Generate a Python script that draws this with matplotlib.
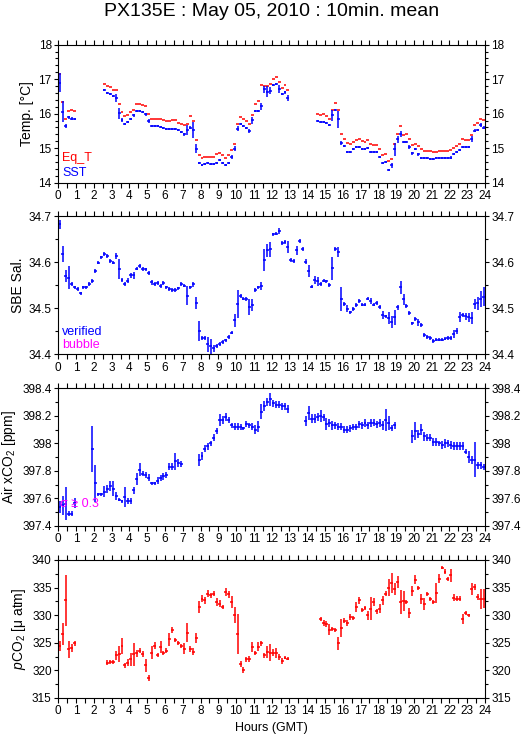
import numpy as np
import matplotlib
matplotlib.use("Agg")
import matplotlib.pyplot as plt
from matplotlib.ticker import MultipleLocator, FuncFormatter

plt.rcParams['font.family'] = ['Liberation Sans', 'DejaVu Sans']
plt.rcParams['mathtext.fontset'] = 'custom'
plt.rcParams['mathtext.rm'] = 'Liberation Sans'
plt.rcParams['mathtext.it'] = 'Liberation Sans:italic'

N = np.nan
title = "PX135E : May 05, 2010 : 10min. mean"
hour_ticks = list(range(0, 25))

# 10-minute means, 6 values per hour (hour 0 .. 23)
eq_t = [
    17.14, 16.33, 15.86, 16.08, 16.10, 16.08,
    N, N, N, N, N, N,
    N, N, N, 16.86, 16.79, 16.76,
    16.68, 16.68, 16.28, 16.04, 15.93, 15.96,
    16.04, 16.12, 16.27, 16.27, 16.24, 16.21,
    16.00, 15.84, 15.86, 15.86, 15.84, 15.81,
    15.78, 15.78, 15.81, 15.81, 15.72, 15.69,
    15.66, 15.69, 15.94, 15.78, 15.24, 14.79,
    14.73, 14.75, 14.75, 14.75, 14.75, 14.84,
    14.87, 14.80, 14.71, 14.79, 14.95, 15.13,
    15.71, 15.89, 15.85, 15.79, 15.69, 15.97,
    16.28, 16.36, 16.82, 16.80, 16.80, 16.86,
    17.00, 17.05, 16.93, 16.75, 16.82, 16.68,
    N, N, N, N, N, N,
    N, N, N, 15.98, 15.96, 15.98,
    15.94, 15.86, 16.10, 16.30, 16.12, 15.40,
    15.28, 15.14, 15.11, 15.17, 15.24, 15.27,
    15.21, 15.18, 15.24, 15.11, 15.09, 15.09,
    14.98, 14.79, 14.82, 14.62, 14.69, 15.11,
    15.41, 15.63, 15.37, 15.40, 15.28, 15.08,
    15.13, 15.05, 14.97, 14.91, 14.91, 14.91,
    14.88, 14.88, 14.91, 14.91, 14.91, 14.91,
    14.94, 15.00, 15.05, 15.11, 15.26, 15.23,
    15.23, 15.38, 15.67, 15.72, 15.84, 15.81,
]

sst = [
    16.90, 16.06, 15.65, 15.89, 15.86, 15.84,
    N, N, N, N, N, N,
    N, N, N, 16.69, 16.61, 16.57,
    16.52, 16.46, 16.01, 15.82, 15.69, 15.76,
    15.84, 15.95, 16.08, 16.08, 16.04, 15.98,
    15.79, 15.64, 15.64, 15.65, 15.62, 15.59,
    15.57, 15.57, 15.57, 15.57, 15.53, 15.47,
    15.40, 15.53, 15.59, 15.53, 14.98, 14.56,
    14.52, 14.53, 14.56, 14.54, 14.54, 14.58,
    14.66, 14.58, 14.52, 14.58, 14.75, 14.98,
    15.57, 15.70, 15.63, 15.59, 15.51, 15.81,
    16.08, 16.08, 16.21, 16.71, 16.64, 16.67,
    16.83, 16.86, 16.71, 16.57, 16.62, 16.46,
    N, N, N, N, N, N,
    N, N, N, 15.80, 15.77, 15.76,
    15.72, 15.66, 15.95, 16.10, 15.84, 15.14,
    15.06, 14.90, 14.88, 14.98, 15.04, 15.04,
    14.99, 14.99, 15.00, 14.88, 14.88, 14.88,
    14.74, 14.56, 14.61, 14.37, 14.50, 14.97,
    15.26, 15.41, 15.17, 15.17, 15.04, 14.85,
    14.97, 14.82, 14.72, 14.71, 14.71, 14.68,
    14.70, 14.71, 14.71, 14.71, 14.71, 14.71,
    14.73, 14.83, 14.89, 14.95, 15.04, 15.04,
    15.04, 15.26, 15.51, 15.53, 15.67, 15.60,
]

sst_err = [
    0.27, 0.30, 0.05, 0.03, 0.03, 0.03,
    0, 0, 0, 0, 0, 0,
    0, 0, 0, 0.03, 0.03, 0.03,
    0.03, 0.12, 0.16, 0.05, 0.03, 0.03,
    0.03, 0.05, 0.03, 0.03, 0.03, 0.04,
    0.06, 0.03, 0.03, 0.03, 0.03, 0.03,
    0.03, 0.03, 0.03, 0.03, 0.03, 0.04,
    0.04, 0.15, 0.04, 0.24, 0.13, 0.03,
    0.03, 0.03, 0.03, 0.03, 0.03, 0.03,
    0.03, 0.03, 0.03, 0.03, 0.05, 0.07,
    0.08, 0.03, 0.03, 0.03, 0.06, 0.10,
    0.03, 0.03, 0.10, 0.10, 0.15, 0.10,
    0.03, 0.03, 0.12, 0.03, 0.04, 0.09,
    0, 0, 0, 0, 0, 0,
    0, 0, 0, 0.03, 0.03, 0.03,
    0.03, 0.03, 0.15, 0.03, 0.25, 0.06,
    0.03, 0.03, 0.03, 0.03, 0.03, 0.03,
    0.03, 0.03, 0.03, 0.03, 0.03, 0.03,
    0.03, 0.03, 0.03, 0.04, 0.07, 0.19,
    0.10, 0.08, 0.03, 0.03, 0.06, 0.04,
    0.03, 0.04, 0.03, 0.03, 0.03, 0.03,
    0.03, 0.03, 0.03, 0.03, 0.03, 0.03,
    0.03, 0.04, 0.03, 0.03, 0.03, 0.03,
    0.03, 0.09, 0.04, 0.03, 0.06, 0.05,
]

sal = [
    34.682, 34.618, 34.570, 34.566, 34.552, 34.545,
    34.541, 34.532, 34.545, 34.545, 34.552, 34.559,
    34.581, 34.599, 34.610, 34.617, 34.613, 34.603,
    34.599, 34.613, 34.585, 34.561, 34.552, 34.560,
    34.571, 34.571, 34.586, 34.592, 34.585, 34.584,
    34.577, 34.556, 34.552, 34.555, 34.548, 34.554,
    34.545, 34.542, 34.539, 34.539, 34.543, 34.552,
    34.549, 34.527, 34.545, 34.552, 34.511, 34.451,
    34.435, 34.435, 34.422, 34.417, 34.413, 34.418,
    34.422, 34.426, 34.430, 34.438, 34.447, 34.474,
    34.509, 34.527, 34.521, 34.520, 34.503, 34.508,
    34.539, 34.545, 34.548, 34.604, 34.626, 34.628,
    34.660, 34.662, 34.667, 34.641, 34.643, 34.633,
    34.605, 34.603, 34.626, 34.646, 34.628, 34.601,
    34.581, 34.547, 34.561, 34.558, 34.553, 34.560,
    34.558, 34.550, 34.587, 34.628, 34.622, 34.520,
    34.509, 34.499, 34.491, 34.498, 34.507, 34.516,
    34.508, 34.508, 34.521, 34.516, 34.508, 34.511,
    34.503, 34.485, 34.482, 34.479, 34.469, 34.480,
    34.502, 34.545, 34.519, 34.505, 34.489, 34.467,
    34.477, 34.469, 34.464, 34.442, 34.437, 34.435,
    34.429, 34.432, 34.432, 34.432, 34.434, 34.435,
    34.435, 34.444, 34.451, 34.480, 34.485, 34.482,
    34.480, 34.478, 34.509, 34.511, 34.520, 34.525,
]

sal_err = [
    0.010, 0.017, 0.013, 0.025, 0.004, 0.004,
    0.004, 0.004, 0.004, 0.004, 0.004, 0.004,
    0.005, 0.004, 0.004, 0.004, 0.004, 0.004,
    0.004, 0.006, 0.022, 0.004, 0.004, 0.006,
    0.005, 0.007, 0.004, 0.004, 0.004, 0.004,
    0.004, 0.006, 0.004, 0.004, 0.004, 0.004,
    0.004, 0.004, 0.004, 0.004, 0.004, 0.004,
    0.004, 0.021, 0.004, 0.005, 0.013, 0.022,
    0.004, 0.004, 0.016, 0.016, 0.008, 0.004,
    0.004, 0.004, 0.004, 0.004, 0.004, 0.014,
    0.031, 0.004, 0.004, 0.004, 0.018, 0.013,
    0.004, 0.004, 0.008, 0.024, 0.014, 0.016,
    0.004, 0.004, 0.006, 0.004, 0.004, 0.013,
    0.004, 0.004, 0.010, 0.004, 0.004, 0.005,
    0.013, 0.004, 0.009, 0.010, 0.004, 0.004,
    0.004, 0.004, 0.025, 0.004, 0.011, 0.025,
    0.004, 0.008, 0.004, 0.004, 0.004, 0.004,
    0.004, 0.004, 0.004, 0.006, 0.004, 0.004,
    0.004, 0.008, 0.004, 0.013, 0.013, 0.016,
    0.006, 0.014, 0.012, 0.004, 0.004, 0.004,
    0.004, 0.007, 0.004, 0.004, 0.004, 0.004,
    0.004, 0.004, 0.004, 0.004, 0.004, 0.004,
    0.004, 0.008, 0.006, 0.011, 0.004, 0.008,
    0.010, 0.013, 0.010, 0.014, 0.018, 0.020,
]

xco2 = [
    397.54, 397.55, 397.56, 397.49, 397.49, 397.57,
    N, N, N, N, N, 397.96,
    397.71, 397.63, 397.63, 397.65, 397.67, 397.69,
    397.67, 397.62, 397.59, 397.58, 397.61, 397.58,
    397.58, 397.66, 397.74, 397.81, 397.78, 397.77,
    397.75, 397.71, 397.71, 397.73, 397.75, 397.76,
    397.77, 397.83, 397.83, 397.87, 397.86, 397.85,
    N, N, N, N, N, 397.88,
    397.91, 397.96, 397.98, 398.00, 398.04, 398.09,
    398.17, 398.17, 398.19, 398.17, 398.13, 398.12,
    398.12, 398.12, 398.11, 398.14, 398.13, 398.12,
    398.10, 398.12, 398.23, 398.27, 398.30, 398.32,
    398.29, 398.28, 398.28, 398.27, 398.27, 398.25,
    N, N, N, N, N, 398.16,
    398.22, 398.18, 398.18, 398.19, 398.20, 398.19,
    398.14, 398.15, 398.13, 398.13, 398.12, 398.12,
    398.10, 398.10, 398.11, 398.12, 398.12, 398.14,
    398.13, 398.15, 398.13, 398.15, 398.15, 398.14,
    398.15, 398.13, 398.17, 398.15, 398.11, 398.13,
    N, N, N, N, N, 398.05,
    398.09, 398.07, 398.10, 398.05, 398.04, 398.04,
    398.01, 398.01, 398.00, 397.99, 398.00, 398.00,
    397.99, 397.98, 397.98, 397.98, 397.98, 397.94,
    397.90, 397.88, 397.88, 397.84, 397.84, 397.83,
]

xco2_err = [
    0.042, 0.067, 0.120, 0.020, 0.020, 0.036,
    0, 0, 0, 0, 0, 0.167,
    0.133, 0.012, 0.012, 0.040, 0.030, 0.036,
    0.054, 0.030, 0.012, 0.012, 0.073, 0.020,
    0.020, 0.025, 0.042, 0.048, 0.020, 0.020,
    0.025, 0.012, 0.012, 0.025, 0.020, 0.025,
    0.020, 0.025, 0.025, 0.060, 0.030, 0.020,
    0, 0, 0, 0, 0, 0.042,
    0.030, 0.025, 0.025, 0.020, 0.025, 0.025,
    0.045, 0.030, 0.030, 0.025, 0.020, 0.025,
    0.025, 0.020, 0.012, 0.020, 0.020, 0.025,
    0.030, 0.040, 0.055, 0.035, 0.030, 0.045,
    0.025, 0.025, 0.025, 0.025, 0.025, 0.030,
    0, 0, 0, 0, 0, 0.036,
    0.050, 0.030, 0.030, 0.030, 0.042, 0.025,
    0.042, 0.030, 0.030, 0.025, 0.025, 0.025,
    0.025, 0.025, 0.025, 0.020, 0.020, 0.025,
    0.025, 0.030, 0.025, 0.030, 0.025, 0.025,
    0.030, 0.030, 0.078, 0.050, 0.020, 0.025,
    0, 0, 0, 0, 0, 0.048,
    0.066, 0.030, 0.042, 0.030, 0.025, 0.025,
    0.030, 0.030, 0.020, 0.030, 0.030, 0.025,
    0.030, 0.030, 0.030, 0.030, 0.030, 0.020,
    0.042, 0.030, 0.127, 0.025, 0.025, 0.020,
]

pco2 = [
    324.5, 326.6, 332.7, 323.8, 324.0, 324.9,
    N, N, N, N, N, N,
    N, N, N, N, 321.4, 321.5,
    321.5, 322.7, 323.0, 324.4, 320.9, 321.4,
    322.0, 322.9, 323.1, 323.6, 323.0, 320.9,
    318.6, 323.2, 324.5, 322.8, 324.2, 323.2,
    323.6, 325.6, 327.3, 325.5, 325.0, 324.4,
    323.9, 326.8, 323.9, 323.4, 325.9, 331.5,
    333.0, 332.7, 333.9, 333.6, 333.9, 332.4,
    332.1, 331.5, 334.2, 333.8, 332.4, 330.0,
    326.6, 321.2, 320.1, 322.0, 322.1, 324.3,
    323.1, 324.3, 324.9, 322.7, 323.3, 323.2,
    323.2, 323.2, 322.4, 321.7, 322.3, 322.1,
    N, N, N, N, N, N,
    N, N, N, N, 329.3, 328.6,
    328.4, 327.4, 327.5, 327.3, 324.9, 327.7,
    329.0, 328.6, 329.7, 329.5, 331.5, 332.7,
    330.9, 331.3, 330.0, 331.2, 332.4, 330.7,
    331.2, 332.7, 333.9, 335.0, 335.9, 334.8,
    336.0, 332.4, 332.6, 332.4, 330.4, 334.4,
    336.4, 334.9, 332.9, 332.0, 333.8, 332.9,
    332.4, 334.1, 336.6, 338.6, 337.9, 336.6,
    337.2, 333.2, 333.0, 333.0, 329.3, 330.4,
    330.0, 334.8, 335.1, 333.3, 332.9, 333.0,
]

pco2_err = [
    0.9, 2.0, 4.6, 1.6, 0.7, 0.4,
    0, 0, 0, 0, 0, 0,
    0, 0, 0, 0, 0.4, 0.3,
    0.4, 0.9, 1.5, 1.4, 0.5, 0.6,
    1.2, 2.1, 0.6, 0.4, 0.5, 1.1,
    0.6, 1.2, 0.6, 0.4, 1.1, 0.4,
    0.4, 1.2, 0.5, 0.4, 0.4, 0.4,
    1.0, 1.7, 0.5, 0.6, 0.9, 1.1,
    0.6, 0.6, 0.6, 0.4, 0.4, 0.8,
    0.6, 0.4, 0.8, 0.6, 1.1, 1.4,
    3.6, 0.5, 0.5, 0.5, 0.5, 0.9,
    0.4, 0.8, 0.5, 0.5, 1.1, 1.5,
    0.6, 0.9, 0.6, 0.5, 0.3, 0.3,
    0, 0, 0, 0, 0, 0,
    0, 0, 0, 0, 0.3, 0.5,
    0.5, 1.0, 0.4, 0.4, 1.2, 1.7,
    0.5, 0.5, 0.5, 0.4, 0.9, 0.6,
    0.4, 0.3, 0.8, 2.1, 0.7, 0.5,
    0.8, 0.8, 0.4, 1.5, 1.8, 1.1,
    1.1, 2.2, 1.8, 0.4, 0.9, 0.9,
    0.8, 0.3, 0.9, 1.1, 0.4, 0.4,
    0.4, 1.8, 0.8, 0.3, 0.4, 0.4,
    1.2, 0.7, 0.4, 0.4, 0.9, 0.3,
    0.3, 1.1, 0.6, 0.6, 1.8, 1.7,
]

# bin centres (hours) for the 144 ten-minute intervals
t = (np.arange(len(sst)) + 0.5) / 6.0
half_bin = 1.0 / 12.0

W, H = 529, 739
fig = plt.figure(figsize=(W / 100, H / 100), dpi=100)

left_px, right_px = 58.3, 485.0
panels_px = [(44.7, 182.7), (216.0, 354.3), (388.3, 526.0), (560.0, 698.0)]
axes = []
for top, bot in panels_px:
    ax = fig.add_axes([left_px / W, 1 - bot / H, (right_px - left_px) / W, (bot - top) / H])
    axes.append(ax)

BLUE = (0, 0, 1)
RED = (1, 0, 0)
MAG = (1, 0, 1)
TICKFS = 8.5
LABFS = 10


def fmt_g(v, pos):
    return ('%.4f' % v).rstrip('0').rstrip('.')


def style(ax, ylo, yhi, ymaj, ymin):
    ax.set_xlim(0, 24)
    ax.set_ylim(ylo, yhi)
    ax.set_xticks(hour_ticks)
    ax.xaxis.set_minor_locator(MultipleLocator(0.5))
    ax.yaxis.set_major_locator(MultipleLocator(ymaj))
    ax.yaxis.set_minor_locator(MultipleLocator(ymin))
    ax.yaxis.set_major_formatter(FuncFormatter(fmt_g))
    ax.tick_params(axis='x', which='both', direction='out', top=True, bottom=True,
                   length=3.4, width=0.8, labelsize=TICKFS, pad=2)
    ax.tick_params(axis='y', which='major', direction='out', left=True, right=True,
                   labelleft=True, labelright=True, length=3.2, width=0.8,
                   labelsize=TICKFS, pad=1.5)
    ax.tick_params(axis='y', which='minor', direction='out', left=True, right=True,
                   length=2.0, width=0.8)
    for s in ax.spines.values():
        s.set_linewidth(0.8)


def crosses(ax, y, err, color):
    ax.errorbar(t, y, xerr=half_bin, yerr=err, fmt='none', ecolor=color,
                elinewidth=1.1, capsize=0)


# Panel 1: temperatures
ax = axes[0]
ax.errorbar(t, eq_t, xerr=half_bin, fmt='none', ecolor=RED, elinewidth=1.1, capsize=0)
crosses(ax, sst, sst_err, BLUE)
style(ax, 14, 18, 1, 0.2)
ax.set_ylabel('Temp. [°C]', fontsize=LABFS, labelpad=3)
ax.text(0.009, 0.179, 'Eq_T', color=RED, fontsize=9, transform=ax.transAxes, va='center')
ax.text(0.009, 0.070, 'SST', color=BLUE, fontsize=9, transform=ax.transAxes, va='center')

# Panel 2: salinity
ax = axes[1]
crosses(ax, sal, sal_err, BLUE)
style(ax, 34.4, 34.7, 0.1, 0.05)
ax.set_ylabel('SBE Sal.', fontsize=LABFS, labelpad=3)
ax.text(0.009, 0.161, 'verified', color=BLUE, fontsize=9, transform=ax.transAxes, va='center')
ax.text(0.009, 0.067, 'bubble', color=MAG, fontsize=9, transform=ax.transAxes, va='center')

# Panel 3: atmospheric xCO2
ax = axes[2]
crosses(ax, xco2, xco2_err, BLUE)
style(ax, 397.4, 398.4, 0.2, 0.1)
ax.set_ylabel('Air xCO$_2$ [ppm]', fontsize=LABFS, labelpad=3)
ax.text(0.004, 0.16, 'σ ≥ 0.3', color=MAG, fontsize=9, transform=ax.transAxes, va='center')

# Panel 4: pCO2
ax = axes[3]
crosses(ax, pco2, pco2_err, RED)
style(ax, 315, 340, 5, 2.5)
ax.set_ylabel('$p$CO$_2$ [μ atm]', fontsize=LABFS, labelpad=3)
ax.set_xlabel('Hours (GMT)', fontsize=9, labelpad=3)

fig.text(0.514, 1 - 12 / H, title, ha='center', va='center', fontsize=14)

fig.savefig('out.png', dpi=100)
